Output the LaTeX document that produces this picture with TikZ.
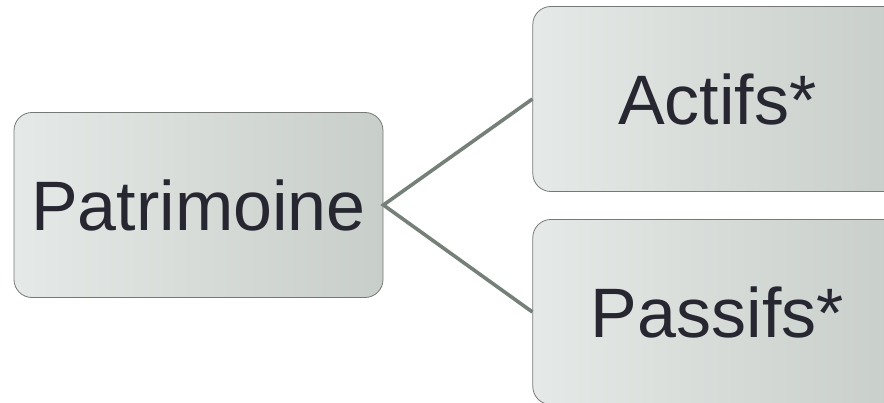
\documentclass[tikz,border=0pt]{standalone}
\usepackage{fontspec}
\setmainfont{Liberation Sans}
\usetikzlibrary{positioning}
\definecolor{boxLight}{RGB}{229,233,231}
\definecolor{boxDark}{RGB}{200,206,202}
\definecolor{boxBorder}{RGB}{118,120,119}
\definecolor{linkColor}{RGB}{117,128,121}
\definecolor{textColor}{RGB}{38,39,48}

\begin{document}
\begin{tikzpicture}[x=1pt,y=1pt,textColor]
	\tikzstyle{box} = [rectangle,rounded corners=18pt,draw=boxBorder,line width=0.8pt,shading angle=300,left color=boxLight,right color=boxDark,minimum width=369pt,minimum height=185pt,inner sep=0pt,font=\fontsize{70}{84}\selectfont]
	\tikzstyle{link} = [draw=linkColor,line width=3.6pt]

	\useasboundingbox (0,0) rectangle (884,402);
	\clip (0,0) rectangle (884,402);

	  \node [box] at (198.5,197) (pat) {Patrimoine};
	  \node [box, right=149pt of pat, yshift=106pt] (act) {Actifs*};
	  \node [box, right=149pt of pat, yshift=-107pt] (pas) {Passifs*};

		\draw [link] (act.west) -- (pat.east) -- (pas.west);
\end{tikzpicture}
\end{document}
